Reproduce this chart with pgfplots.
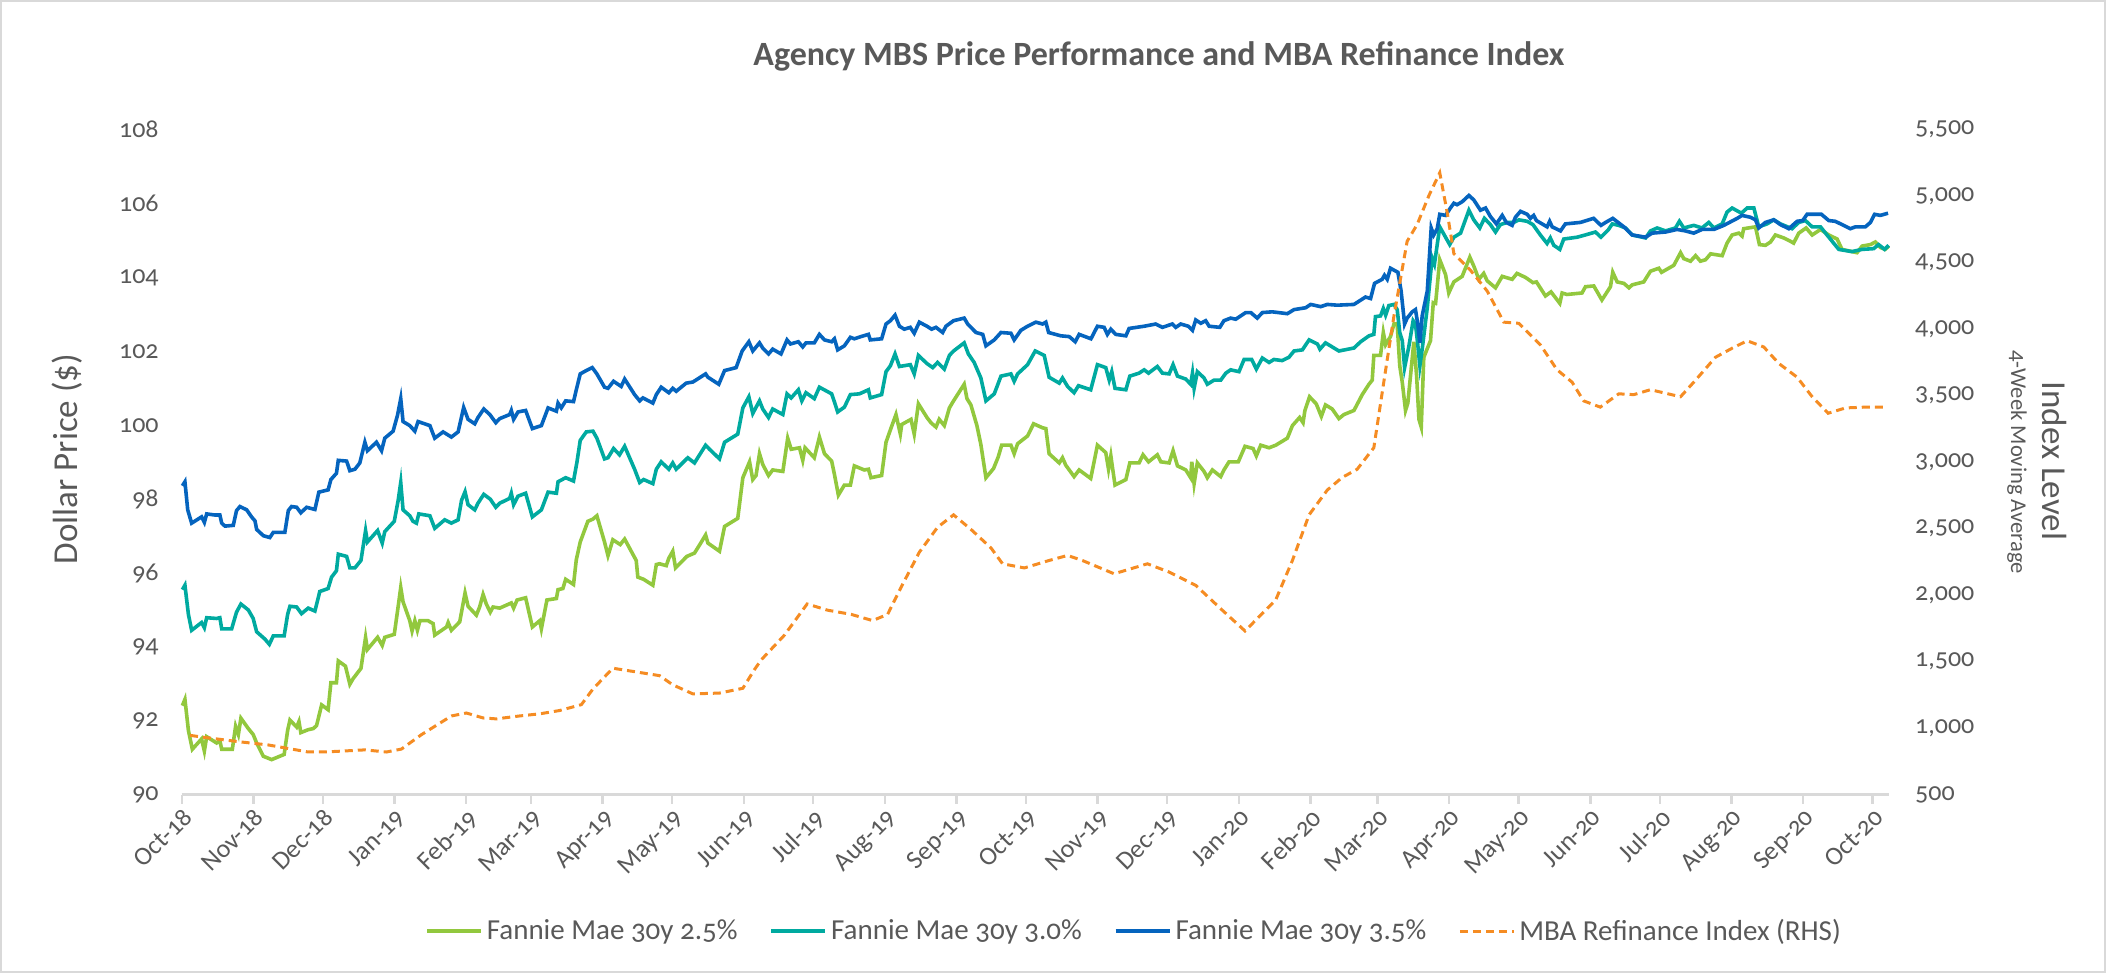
\documentclass[border=0pt]{standalone}
\usepackage{fontspec}
\setmainfont{Carlito}[Numbers=OldStyle]
\usepackage{pgfplots}
\pgfplotsset{compat=1.18}
\definecolor{cgreen}{RGB}{146,200,62}
\definecolor{cteal}{RGB}{0,170,160}
\definecolor{cblue}{RGB}{5,100,190}
\definecolor{corange}{RGB}{245,140,35}
\definecolor{cgrey}{RGB}{89,89,89}
\definecolor{caxis}{RGB}{217,217,217}

\pgfplotstableread{
day val
0.3 92.41
1.4 92.58
2.9 91.74
4.6 91.23
8.6 91.51
9.8 91.18
10.8 91.57
15.1 91.40
16.5 91.46
17.3 91.23
21.9 91.23
23.3 91.85
24.5 91.63
25.6 92.07
28.8 91.79
30.9 91.63
32.4 91.40
35.3 91.04
38.9 90.95
44.3 91.09
45.8 91.74
46.8 92.02
49.7 91.83
50.7 91.98
51.5 91.68
54.7 91.76
56.9 91.79
58.3 91.87
60.5 92.43
63.3 92.30
64.5 93.03
66.9 93.03
67.7 93.62
70.8 93.48
72.7 92.99
74.1 93.14
77.5 93.42
79.5 94.26
80.3 93.93
84.7 94.26
86.7 94.04
87.8 94.26
91.9 94.34
93.6 95.10
94.7 95.61
95.7 95.22
98.6 94.71
99.6 94.43
100.8 94.71
101.9 94.45
103.0 94.71
106.5 94.71
108.7 94.63
109.4 94.32
114.5 94.54
115.2 94.66
116.6 94.45
120.2 94.68
122.5 95.46
123.8 95.10
127.4 94.86
128.8 95.08
130.3 95.42
131.7 95.16
133.4 94.94
134.6 95.08
137.5 95.05
142.5 95.19
143.5 95.05
145.0 95.27
148.7 95.33
151.6 94.54
154.8 94.71
155.5 94.49
157.9 95.27
162.0 95.31
162.7 95.55
164.8 95.58
166.0 95.83
169.4 95.69
170.6 96.36
172.3 96.84
175.6 97.40
177.8 97.46
179.5 97.55
182.8 96.84
184.3 96.47
186.4 96.90
189.6 96.77
191.5 96.92
196.5 96.34
197.2 95.89
199.7 95.83
203.7 95.67
205.2 96.23
206.6 96.25
209.5 96.20
210.6 96.40
212.3 96.59
213.5 96.14
218.4 96.45
221.7 96.54
224.2 96.79
226.5 97.03
227.5 96.81
232.5 96.59
234.7 97.26
240.4 97.48
242.6 98.58
245.5 99.01
246.9 98.53
248.3 98.64
249.8 99.23
251.2 98.94
253.7 98.64
255.5 98.79
259.9 98.75
262.0 99.65
263.5 99.35
267.1 99.39
268.5 99.05
269.5 99.39
273.5 99.12
275.7 99.68
277.9 99.23
281.0 99.03
282.2 98.67
283.9 98.11
286.5 98.38
289.1 98.38
290.8 98.90
295.1 98.79
296.9 98.81
298.0 98.58
302.6 98.64
304.5 99.54
306.7 99.93
308.8 100.29
310.7 99.76
311.3 100.02
315.3 100.16
316.7 99.76
318.5 100.58
322.2 100.21
323.9 100.07
326.1 99.95
327.5 100.16
329.7 99.99
331.9 100.47
333.7 100.66
338.3 101.11
339.5 100.72
341.2 100.55
343.8 99.99
345.5 99.48
347.7 98.58
351.0 98.83
353.0 99.14
354.5 99.46
358.5 99.46
359.9 99.23
361.4 99.50
365.7 99.71
368.3 100.04
372.2 99.93
373.6 99.91
375.0 99.23
379.4 98.98
380.8 99.12
382.2 98.92
385.8 98.61
388.0 98.79
393.0 98.56
395.9 99.46
399.5 99.26
400.7 98.81
401.7 99.17
403.5 98.38
408.2 98.53
409.9 98.98
413.9 98.98
415.6 99.20
418.0 99.01
421.8 99.20
423.3 99.01
426.9 98.98
428.6 99.31
430.5 98.90
434.1 98.79
436.2 98.58
436.7 99.01
437.7 98.42
439.1 98.98
442.0 98.75
443.4 98.58
445.6 98.79
449.2 98.61
450.6 98.79
452.8 99.01
456.8 99.01
459.7 99.43
463.2 99.37
464.6 99.17
466.5 99.46
470.1 99.39
473.0 99.46
478.0 99.65
480.2 99.99
483.3 100.21
484.8 100.07
485.6 100.40
487.6 100.77
490.5 100.58
492.7 100.24
494.5 100.55
497.4 100.44
500.3 100.18
502.5 100.29
506.8 100.40
510.4 100.83
513.3 101.11
514.7 101.22
515.4 101.89
518.3 101.89
519.5 102.51
520.5 102.18
522.6 102.40
524.1 102.74
525.5 102.74
526.6 101.61
527.7 101.16
529.1 100.40
530.1 100.60
532.7 102.26
533.9 101.33
534.9 100.16
535.9 99.95
537.0 101.84
539.9 102.29
541.1 103.32
542.1 103.30
543.9 104.48
546.4 104.08
547.8 103.58
550.0 103.88
553.6 104.03
556.9 104.55
558.6 104.31
560.8 103.95
562.9 104.11
564.4 103.91
568.0 103.72
570.9 104.03
575.2 103.95
577.3 104.11
581.0 104.00
584.2 103.86
585.7 103.88
589.6 103.50
592.0 103.61
595.8 103.30
596.8 103.58
598.9 103.54
605.4 103.58
606.9 103.75
610.5 103.77
614.0 103.39
617.7 103.75
618.7 104.14
620.6 103.88
623.5 103.84
625.7 103.72
627.1 103.80
632.1 103.88
635.0 104.17
638.6 104.25
639.8 104.14
645.1 104.33
648.0 104.67
649.4 104.51
652.3 104.44
654.5 104.59
656.6 104.44
658.8 104.48
661.0 104.64
666.0 104.59
668.1 104.93
670.3 105.15
673.2 105.20
674.6 105.12
675.3 105.32
680.4 105.37
682.1 104.89
684.7 104.87
686.9 104.96
689.0 105.15
692.6 105.07
695.5 104.98
696.9 104.93
699.1 105.20
702.3 105.34
704.9 105.15
708.5 105.30
712.1 105.15
715.7 105.04
717.8 104.76
724.3 104.67
726.5 104.85
730.1 104.89
732.2 104.96
734.4 104.81
736.5 104.76
738.0 104.85
}\fnmaA

\pgfplotstableread{
day val
0.3 95.55
1.4 95.67
2.9 94.88
4.3 94.45
8.6 94.66
9.8 94.52
10.8 94.79
15.1 94.77
16.5 94.79
17.3 94.49
21.6 94.49
23.7 94.94
25.6 95.16
28.8 95.00
30.9 94.77
32.4 94.41
36.0 94.21
37.9 94.07
39.6 94.30
44.3 94.30
45.8 94.88
46.8 95.10
49.7 95.08
51.8 94.90
54.7 95.05
57.6 94.97
59.7 95.50
63.3 95.58
64.8 95.89
66.9 96.06
67.7 96.51
71.3 96.45
72.7 96.14
74.9 96.14
77.5 96.34
79.5 97.15
80.3 96.84
84.7 97.15
86.7 96.81
87.8 97.12
91.9 97.40
93.6 97.97
94.7 98.45
95.7 97.71
98.6 97.55
100.0 97.40
101.5 97.35
102.5 97.60
107.3 97.55
109.4 97.21
113.7 97.44
116.6 97.35
119.5 97.44
121.0 97.97
122.5 98.20
123.8 97.85
126.7 97.71
128.1 97.89
130.6 98.13
133.4 98.00
135.8 97.78
137.5 97.89
141.8 98.02
142.5 98.16
143.5 97.85
145.4 98.08
148.7 98.16
151.6 97.52
155.5 97.71
158.4 98.19
162.0 98.16
162.7 98.47
166.0 98.58
169.4 98.49
170.9 99.01
172.3 99.59
174.9 99.82
177.8 99.84
179.5 99.65
182.8 99.09
184.3 99.12
186.7 99.37
189.3 99.20
191.5 99.43
195.8 98.81
198.0 98.45
199.7 98.53
203.7 98.42
205.2 98.81
207.3 99.01
210.6 98.81
212.3 98.98
213.8 98.81
218.8 99.12
221.7 98.98
226.5 99.46
228.2 99.35
232.5 99.09
234.7 99.54
240.4 99.76
242.6 100.47
245.2 100.77
246.9 100.32
249.8 100.66
251.2 100.44
253.7 100.21
255.5 100.44
259.9 100.29
261.7 100.85
263.5 100.74
266.6 100.96
268.1 100.66
269.9 100.88
273.5 100.72
275.7 101.03
281.0 100.85
282.2 100.63
283.6 100.36
286.5 100.49
289.1 100.83
293.0 100.85
296.9 100.96
297.7 100.74
302.6 100.83
304.5 101.45
306.4 101.61
308.4 101.93
310.3 101.59
315.0 101.64
316.7 101.39
318.5 101.89
322.2 101.67
324.7 101.56
326.8 101.70
329.7 101.52
331.9 101.89
333.7 102.01
338.3 102.23
340.1 101.93
342.6 101.70
345.5 101.28
347.7 100.66
351.3 100.85
354.2 101.33
358.5 101.39
359.9 101.19
361.4 101.39
365.7 101.64
369.0 102.01
372.9 101.89
375.0 101.30
379.4 101.14
380.8 101.28
383.0 101.05
385.8 100.88
387.7 101.07
393.0 100.96
395.9 101.64
399.5 101.56
401.0 101.22
402.1 101.45
403.5 101.00
408.2 100.96
409.9 101.33
413.9 101.41
416.1 101.50
418.0 101.41
421.8 101.59
424.0 101.41
426.9 101.39
428.6 101.64
430.5 101.33
434.1 101.25
436.2 101.11
437.0 101.41
437.7 101.00
439.1 101.45
442.0 101.28
443.4 101.11
446.3 101.22
449.2 101.22
451.4 101.41
453.5 101.50
457.1 101.45
459.3 101.78
462.6 101.78
464.6 101.52
467.2 101.82
470.1 101.70
472.2 101.78
475.8 101.75
478.7 101.84
480.9 102.01
484.5 102.04
487.4 102.31
491.0 102.20
492.1 102.06
494.5 102.23
500.3 102.01
506.8 102.09
509.7 102.26
513.3 102.42
515.4 102.46
516.1 102.94
518.3 102.96
519.5 103.16
520.5 102.98
521.9 103.24
524.1 103.27
525.5 103.13
526.6 102.51
527.7 102.29
528.7 101.56
530.5 102.12
532.4 102.83
533.4 102.74
534.4 102.18
535.3 101.61
536.3 102.06
538.5 103.18
540.6 104.53
541.6 104.36
543.9 105.37
546.4 105.09
548.2 104.89
550.0 105.09
552.9 105.20
556.5 105.82
558.6 105.56
561.2 105.34
563.2 105.60
565.8 105.43
568.0 105.23
570.1 105.43
573.0 105.49
575.9 105.49
578.1 105.56
581.7 105.52
584.2 105.43
587.4 105.15
590.3 104.92
591.7 105.07
593.2 104.87
595.8 104.76
597.5 105.04
603.3 105.09
606.8 105.15
611.2 105.23
613.6 105.09
616.9 105.30
618.5 105.45
621.3 105.41
624.2 105.34
627.1 105.15
632.9 105.07
635.0 105.26
637.9 105.34
641.5 105.26
645.8 105.34
647.5 105.52
649.4 105.34
653.7 105.41
657.3 105.34
660.2 105.49
662.4 105.34
666.0 105.45
668.1 105.77
670.3 105.88
674.3 105.74
676.8 105.88
679.7 105.88
681.8 105.37
685.4 105.45
688.3 105.56
691.2 105.45
696.2 105.32
699.1 105.49
702.0 105.54
704.9 105.37
708.5 105.37
712.1 105.09
716.4 104.76
722.1 104.70
726.5 104.76
731.5 104.78
733.6 104.89
736.2 104.76
738.0 104.87
}\fnmaB

\pgfplotstableread{
day val
0.3 98.36
1.4 98.47
2.6 97.71
4.3 97.35
8.6 97.52
9.8 97.37
10.8 97.60
14.4 97.57
16.5 97.57
17.3 97.35
18.7 97.27
22.3 97.29
23.7 97.69
25.2 97.80
28.1 97.71
30.2 97.52
31.7 97.41
32.4 97.18
35.3 97.01
38.1 96.96
39.6 97.10
44.6 97.10
46.1 97.69
47.5 97.80
49.7 97.78
51.5 97.63
54.0 97.78
57.6 97.72
59.3 98.19
63.3 98.25
64.5 98.53
66.9 98.70
67.7 99.05
71.3 99.03
72.7 98.77
74.9 98.81
77.0 98.98
79.2 99.54
80.3 99.31
84.2 99.54
86.4 99.31
87.8 99.65
91.4 99.84
93.3 100.27
94.7 100.72
95.7 100.10
98.6 99.99
100.8 99.84
102.2 100.10
107.3 99.99
109.4 99.65
113.0 99.82
116.6 99.68
119.5 99.82
121.9 100.48
123.8 100.16
126.7 100.04
128.1 100.21
130.6 100.44
133.2 100.29
135.8 100.07
137.5 100.18
141.8 100.29
142.5 100.40
143.5 100.16
145.4 100.36
148.7 100.40
151.6 99.91
155.5 99.99
158.4 100.47
162.0 100.38
162.7 100.60
164.1 100.47
166.0 100.66
169.4 100.64
170.6 100.96
172.3 101.39
174.9 101.48
177.5 101.56
179.5 101.39
182.8 101.03
184.3 101.00
186.7 101.19
190.0 101.05
191.5 101.25
195.8 100.83
198.0 100.66
199.4 100.74
203.7 100.60
205.2 100.83
207.3 101.03
210.6 100.88
212.3 101.00
213.8 100.92
218.1 101.14
221.0 101.17
226.5 101.39
227.5 101.30
232.2 101.11
234.7 101.48
239.7 101.56
242.3 102.01
245.2 102.26
246.9 102.01
249.8 102.23
251.2 102.09
253.7 101.93
255.5 102.06
259.1 101.93
261.7 102.31
263.2 102.20
266.6 102.26
268.5 102.12
269.9 102.23
273.5 102.23
275.7 102.46
277.9 102.31
281.0 102.26
282.2 102.34
283.6 102.04
286.5 102.15
289.1 102.38
290.8 102.34
293.7 102.40
296.9 102.46
297.7 102.31
302.6 102.34
304.5 102.74
306.4 102.83
308.4 102.98
310.3 102.68
312.4 102.60
315.0 102.65
316.7 102.49
318.9 102.79
322.2 102.68
324.2 102.60
326.1 102.65
329.0 102.51
330.4 102.68
333.7 102.83
338.3 102.90
339.8 102.74
343.4 102.51
346.3 102.46
347.7 102.15
351.3 102.31
354.2 102.51
358.5 102.49
359.9 102.31
362.8 102.57
365.7 102.68
369.3 102.79
372.2 102.74
373.6 102.79
374.8 102.51
380.1 102.42
383.7 102.40
386.3 102.26
388.0 102.46
393.1 102.34
395.9 102.68
398.8 102.65
400.2 102.46
401.7 102.60
403.8 102.46
408.2 102.42
409.6 102.62
416.1 102.68
421.1 102.74
424.0 102.65
428.3 102.74
429.8 102.65
431.9 102.74
435.2 102.68
437.0 102.57
438.4 102.85
440.6 102.76
442.7 102.83
444.2 102.68
448.8 102.65
450.6 102.83
453.5 102.90
455.7 102.87
460.0 103.05
462.2 103.05
465.0 102.90
467.2 103.05
471.5 103.07
478.0 103.02
480.9 103.13
485.9 103.18
488.1 103.27
492.4 103.21
495.3 103.27
499.6 103.25
506.8 103.27
511.8 103.47
514.0 103.43
515.7 103.84
519.0 103.95
520.0 104.06
521.2 103.95
522.6 104.25
525.8 104.14
527.2 103.63
528.7 102.74
529.8 102.90
532.0 103.07
533.4 103.13
534.4 102.74
535.3 102.23
536.3 102.96
538.5 103.63
540.2 105.34
541.3 105.15
542.8 105.32
543.9 105.71
546.4 105.68
548.5 105.88
550.0 106.01
551.4 105.97
553.6 106.05
556.5 106.22
558.6 106.10
561.5 105.82
563.7 105.88
565.8 105.65
568.4 105.45
570.9 105.68
572.7 105.49
575.2 105.41
576.6 105.63
578.8 105.79
581.7 105.71
583.1 105.60
584.5 105.68
585.7 105.54
590.3 105.37
591.4 105.52
592.5 105.37
596.1 105.26
598.2 105.45
604.7 105.49
610.4 105.60
613.6 105.41
615.6 105.49
618.7 105.60
623.5 105.37
627.1 105.15
632.9 105.09
635.7 105.20
641.5 105.23
646.5 105.30
650.1 105.26
653.7 105.20
657.3 105.30
662.4 105.30
666.7 105.41
672.5 105.60
674.6 105.68
678.2 105.63
680.4 105.56
681.8 105.34
684.7 105.49
688.3 105.56
691.2 105.43
694.8 105.32
698.4 105.52
700.8 105.54
702.7 105.71
708.9 105.71
712.1 105.54
714.9 105.52
718.5 105.41
721.4 105.32
723.6 105.37
727.9 105.37
730.1 105.49
731.9 105.71
734.4 105.68
737.7 105.74
}\fnmaC

\pgfplotstableread{
day val
3.6 946
11.5 927
25.9 896
37.4 874
44.6 852
54.7 821
61.9 821
79.2 837
88.5 821
95.0 843
103.7 952
116.6 1092
123.1 1114
130.3 1077
136.0 1070
146.1 1092
154.8 1108
163.4 1133
172.8 1177
177.8 1295
186.4 1451
206.6 1395
212.3 1326
221.0 1258
232.5 1264
242.6 1300
247.6 1440
250.5 1513
260.6 1700
270.4 1934
279.3 1887
289.4 1856
298.7 1809
305.2 1856
311.0 2059
318.9 2323
326.8 2511
333.7 2604
341.2 2495
349.9 2355
354.9 2236
364.3 2205
375.0 2261
383.0 2299
389.4 2261
403.1 2161
417.5 2236
426.9 2174
438.4 2074
449.9 1887
459.7 1731
473.0 1965
480.2 2261
487.4 2604
495.3 2791
501.7 2885
508.2 2947
515.4 3109
519.7 3602
524.1 4100
529.8 4661
534.1 4786
539.2 5004
543.9 5176
547.1 4879
550.0 4568
557.2 4443
564.4 4287
571.6 4053
578.1 4044
587.4 3882
594.6 3695
601.1 3602
606.1 3461
613.3 3414
621.3 3514
627.8 3508
635.0 3545
648.0 3492
654.5 3617
663.1 3789
670.3 3857
676.8 3913
684.0 3866
690.5 3742
698.4 3639
704.9 3492
711.8 3368
719.3 3408
727.9 3414
737.2 3414
}\mba

\begin{document}
\begin{tikzpicture}[x=1pt,y=1pt]
\path[use as bounding box] (0,0) rectangle (1053,486.5);
\draw[caxis, line width=1pt] (0.5,0.5) rectangle (1052.5,486);
\begin{axis}[
  at={(90.85pt,89.15pt)}, anchor=south west,
  scale only axis, width=853.5pt, height=332.5pt,
  xmin=0, xmax=738, ymin=90, ymax=108,
  axis x line*=bottom, axis y line*=left,
  x axis line style={draw=caxis, line width=1.2pt, -},
  y axis line style={draw=none},
  xtick={0,31,61,92,123,151,182,212,243,273,304,335,365,396,426,457,488,517,548,578,609,639,670,701,731},
  xticklabels={Oct-18,Nov-18,Dec-18,Jan-19,Feb-19,Mar-19,Apr-19,May-19,Jun-19,Jul-19,Aug-19,Sep-19,Oct-19,Nov-19,Dec-19,Jan-20,Feb-20,Mar-20,Apr-20,May-20,Jun-20,Jul-20,Aug-20,Sep-20,Oct-20},
  xtick style={draw=caxis, line width=1.2pt},
  tick align=outside,
  major tick length=4.5pt,
  ytick={90,92,...,108},
  ytick style={draw=none},
  tick label style={font=\fontsize{13}{15}\selectfont, text=cgrey},
  xticklabel style={rotate=45, anchor=north east, inner sep=1pt},
  yticklabel style={xshift=-3.5pt},
  /pgf/number format/assume math mode=true,
  clip=false,
  legend style={at={(0.5585,-0.205)}, anchor=center, draw=none, fill=none,
    font=\fontsize{14.5}{17}\selectfont, text=cgrey,
    /tikz/every even column/.append style={column sep=14pt}},
  legend columns=4,
  legend image code/.code={\draw[#1] (0pt,0pt) -- (27pt,0pt);},
]
\addplot[cgreen, line width=1.8pt] table[x=day,y=val] {\fnmaA};
\addlegendentry{Fannie Mae 30y 2.5\%}
\addplot[cteal, line width=1.8pt] table[x=day,y=val] {\fnmaB};
\addlegendentry{Fannie Mae 30y 3.0\%}
\addplot[cblue, line width=1.8pt] table[x=day,y=val] {\fnmaC};
\addlegendentry{Fannie Mae 30y 3.5\%}
\addlegendimage{corange, line width=1.5pt, dash pattern=on 4pt off 2.5pt}
\addlegendentry{MBA Refinance Index (RHS)}
\end{axis}
\begin{axis}[
  at={(90.85pt,89.15pt)}, anchor=south west,
  scale only axis, width=853.5pt, height=332.5pt,
  xmin=0, xmax=738, ymin=500, ymax=5500,
  axis x line=none,
  axis y line*=right,
  y axis line style={draw=none},
  ytick={500,1000,...,5500},
  ytick style={draw=none},
  scaled y ticks=false,
  yticklabel style={font=\fontsize{13}{15}\selectfont, text=cgrey, anchor=west, xshift=9.7pt},
  /pgf/number format/1000 sep={,},
  /pgf/number format/assume math mode=true,
  clip=false,
]
\addplot[corange, line width=1.5pt, dash pattern=on 4pt off 2.5pt] table[x=day,y=val] {\mba};
\end{axis}
\node[font=\bfseries\fontsize{17}{20}\selectfont, text=cgrey, anchor=base] at (579.5,453.5) {Agency MBS Price Performance and MBA Refinance Index};
\node[rotate=90, font=\fontsize{17.5}{20}\selectfont, text=cgrey] at (33.5,257) {Dollar Price (\$)};
\node[rotate=-90, font=\fontsize{17.5}{20}\selectfont, text=cgrey] at (1027.5,256) {Index Level};
\node[rotate=-90, font=\fontsize{11.3}{13}\selectfont, text=cgrey] at (1008.5,255.5) {4-Week Moving Average};
\end{tikzpicture}
\end{document}
